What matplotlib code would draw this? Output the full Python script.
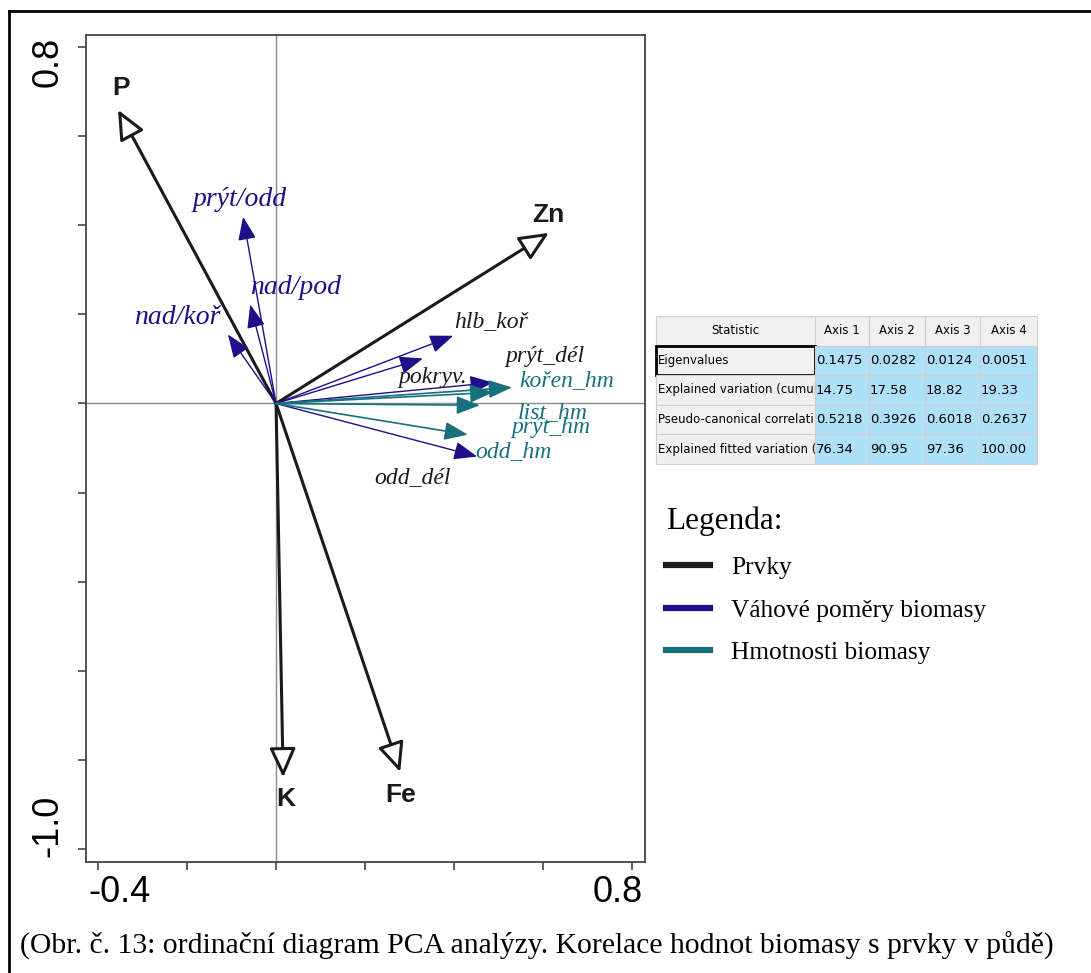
import matplotlib
matplotlib.use("Agg")
import matplotlib.pyplot as plt
from matplotlib.lines import Line2D
from matplotlib.transforms import ScaledTranslation

# arrows (tips)
elem_names = ["P", "Zn", "K", "Fe"]
elem_x = [-0.355, 0.613, 0.016, 0.279]
elem_y = [0.659, 0.383, -0.839, -0.827]
elem_lab_x = [-0.348, 0.611, 0.022, 0.279]
elem_lab_y = [0.709, 0.424, -0.888, -0.879]

ratio_names = ["prýt/odd", "nad/pod", "nad/koř", "hlb_koř", "prýt_dél", "pokryv.", "odd_dél"]
ratio_x = [-0.074, -0.058, -0.108, 0.398, 0.330, 0.488, 0.452]
ratio_y = [0.419, 0.222, 0.155, 0.152, 0.101, 0.047, -0.119]
ratio_lab_x = [-0.081, 0.043, -0.222, 0.483, 0.604, 0.353, 0.306]
ratio_lab_y = [0.457, 0.260, 0.193, 0.184, 0.105, 0.058, -0.166]

mass_names = ["kořen_hm", "odd_hm", "list_hm", "prýt_hm"]
mass_x = [0.530, 0.488, 0.458, 0.431]
mass_y = [0.036, 0.025, -0.004, -0.070]
mass_lab_x = [0.652, 0.533, 0.622, 0.618]
mass_lab_y = [0.052, -0.108, -0.020, -0.054]

# statistics table
tab_header = ["Statistic", "Axis 1", "Axis 2", "Axis 3", "Axis 4"]
tab_rows = ["Eigenvalues", "Explained variation (cumul", "Pseudo-canonical correlati",
            "Explained fitted variation ("]
tab_vals = [["0.1475", "0.0282", "0.0124", "0.0051"],
            ["14.75", "17.58", "18.82", "19.33"],
            ["0.5218", "0.3926", "0.6018", "0.2637"],
            ["76.34", "90.95", "97.36", "100.00"]]

legend_labels = ["Prvky", "Váhové poměry biomasy", "Hmotnosti biomasy"]

BLACK = "#1a1a1a"
NAVY = "#1f0f88"
TEAL = "#17707c"
SANS = ["Liberation Sans Narrow", "Liberation Sans", "DejaVu Sans"]
SERIF = ["Liberation Serif", "DejaVu Serif"]

W, H = 1091, 973
fig = plt.figure(figsize=(W / 100, H / 100), dpi=100)


def shift(t, dx, dy):
    t.set_transform(t.get_transform() + ScaledTranslation(dx / 100, dy / 100, fig.dpi_scale_trans))


# page frame (top + left edges only)
fig.add_artist(Line2D([9 / W, 9 / W], [0, 1 - 11 / H], color="black", lw=2))
fig.add_artist(Line2D([9 / W, 1], [1 - 11 / H, 1 - 11 / H], color="black", lw=2))

ax = fig.add_axes([86 / W, 1 - 862 / H, (645 - 86) / W, (862 - 35) / H])
ax.set_xlim(-0.427, 0.829)
ax.set_ylim(-1.029, 0.827)
for s in ax.spines.values():
    s.set_color("#444444")
    s.set_linewidth(1.3)
ax.axhline(0, color="#8a8a8a", lw=1, zorder=0)
ax.axvline(0, color="#8a8a8a", lw=1, zorder=0)

xt = [-0.4, -0.2, 0.0, 0.2, 0.4, 0.6, 0.8]
yt = [-1.0, -0.8, -0.6, -0.4, -0.2, 0.0, 0.2, 0.4, 0.6, 0.8]
ax.set_xticks(xt, ["-0.4"] + [""] * 5 + ["0.8"])
ax.set_yticks(yt, ["-1.0"] + [""] * 8 + ["0.8"])
ax.tick_params(direction="out", length=6, width=1.2, color="#444444")
ax.tick_params(axis="x", pad=3)
ax.tick_params(axis="y", pad=9)
xl = ax.get_xticklabels()
for t in xl:
    t.set_fontsize(26)
    t.set_family(SANS)
xl[0].set_ha("left")
xl[-1].set_ha("right")
shift(xl[0], -10, 0)
shift(xl[-1], 11, 0)
yl = ax.get_yticklabels()
for t in yl:
    t.set_fontsize(26)
    t.set_family(SANS)
    t.set_rotation(90)
yl[0].set_va("bottom")
yl[-1].set_va("top")
shift(yl[0], 0, -8)
shift(yl[-1], 0, 10)

# element arrows: open heads
for n, x, y, lx, ly in zip(elem_names, elem_x, elem_y, elem_lab_x, elem_lab_y):
    ax.annotate("", xy=(x, y), xytext=(0, 0),
                arrowprops=dict(arrowstyle="-|>,head_length=1.0,head_width=0.45",
                                mutation_scale=18, fc="white", ec=BLACK, lw=2.2,
                                shrinkA=0, shrinkB=0))
    ax.text(lx, ly, n, fontsize=19, fontweight="bold", family=SANS, color=BLACK,
            ha="center", va="center")

for i, (n, x, y, lx, ly) in enumerate(zip(ratio_names, ratio_x, ratio_y, ratio_lab_x, ratio_lab_y)):
    ax.annotate("", xy=(x, y), xytext=(0, 0),
                arrowprops=dict(arrowstyle="-|>,head_length=0.9,head_width=0.35",
                                mutation_scale=16, color=NAVY, lw=1.0,
                                shrinkA=0, shrinkB=0))
    big = i < 3
    ax.text(lx, ly, n, fontsize=20 if big else 17, style="italic", family=SERIF,
            color=NAVY if big else BLACK, ha="center", va="center")

for n, x, y, lx, ly in zip(mass_names, mass_x, mass_y, mass_lab_x, mass_lab_y):
    ax.annotate("", xy=(x, y), xytext=(0, 0),
                arrowprops=dict(arrowstyle="-|>,head_length=0.9,head_width=0.35",
                                mutation_scale=16, color=TEAL, lw=1.2,
                                shrinkA=0, shrinkB=0))
    ax.text(lx, ly, n, fontsize=17, style="italic", family=SERIF, color=TEAL,
            ha="center", va="center")

# statistics table
tax = fig.add_axes([656 / W, 1 - 464 / H, (1037 - 656) / W, (464 - 316) / H])
tax.axis("off")
cells = [[r] + v for r, v in zip(tab_rows, tab_vals)]
colors = [["#f0f0f0"] + ["#aee0f8"] * 4 for _ in tab_rows]
tbl = tax.table(cellText=cells, colLabels=tab_header, cellColours=colors,
                colWidths=[159, 54, 56, 55, 57], bbox=[0, 0, 1, 1], cellLoc="left")
tbl.auto_set_font_size(False)
for (r, c), cell in tbl.get_celld().items():
    cell.set_edgecolor("#cfcfcf")
    cell.set_linewidth(0.8)
    cell.get_text().set_family("DejaVu Sans")
    cell.get_text().set_fontsize(9.5 if (r > 0 and c > 0) else 8.5)
    cell.PAD = 0.012
    if r == 0:
        cell.set_facecolor("#f0f0f0")
        cell._loc = "center"
tbl[1, 0].set_edgecolor("black")
tbl[1, 0].set_linewidth(2)

# legend
handles = [Line2D([], [], color=c, lw=4.5) for c in [BLACK, NAVY, TEAL]]
fig.legend(handles, legend_labels, loc="upper left", bbox_to_anchor=(666 / W, 1 - 507 / H),
           frameon=False, title="Legenda:", alignment="left",
           prop={"family": SERIF, "size": 18.3}, title_fontproperties={"family": SERIF, "size": 22.5},
           handlelength=1.75, handletextpad=0.8, labelspacing=0.78, borderpad=0, borderaxespad=0)

fig.text(20 / W, 1 - 954 / H,
         "(Obr. č. 13: ordinační diagram PCA analýzy. Korelace hodnot biomasy s prvky v půdě)",
         family=SERIF, fontsize=21.3, ha="left", va="baseline")

fig.savefig("out.png", dpi=100)
